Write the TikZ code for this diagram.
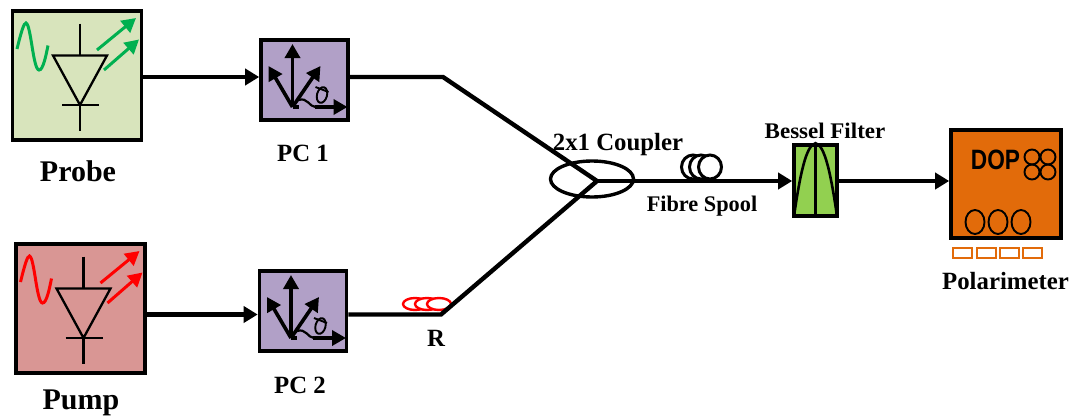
\documentclass[tikz,border=0pt]{standalone}
\usepackage{fontspec}
\setmainfont{Liberation Serif}
\newfontfamily\dopfont{Liberation Sans}
\usepackage{tikz}
\usetikzlibrary{arrows.meta,calc,shapes.geometric}
\definecolor{probeFill}{HTML}{D8E4BC}
\definecolor{pumpFill}{HTML}{D99694}
\definecolor{pcFill}{HTML}{B1A0C7}
\definecolor{filterFill}{HTML}{92D050}
\definecolor{polFill}{HTML}{E26B0A}
\definecolor{probeGreen}{HTML}{00B050}
\tikzset{
  srcBox/.style={draw=black, line width=3.4pt, minimum width=129pt, minimum height=129pt, inner sep=0pt},
  pcBox/.style={draw=black, line width=3.6pt, fill=pcFill, minimum width=87pt, minimum height=80pt, inner sep=0pt},
  filterBox/.style={draw=black, line width=3.6pt, fill=filterFill, minimum width=43pt, minimum height=71pt, inner sep=0pt},
  polBox/.style={draw=black, line width=3.6pt, fill=polFill, minimum width=110pt, minimum height=108pt, inner sep=0pt},
  couplerShape/.style={ellipse, draw=black, line width=3.4pt, minimum width=83pt, minimum height=36pt, inner sep=0pt},
  spoolRing/.style={ellipse, draw=black, fill=white, line width=3pt, minimum width=23pt, minimum height=24pt, inner sep=0pt},
  redRing/.style={ellipse, draw=red, fill=white, line width=2.4pt, minimum width=24pt, minimum height=12pt, inner sep=0pt},
  dialRing/.style={ellipse, draw=black, line width=1.9pt, minimum width=19pt, minimum height=24pt, inner sep=0pt},
  knobRing/.style={circle, draw=black, line width=1.9pt, minimum size=15pt, inner sep=0pt},
  portBox/.style={draw=polFill, line width=2pt, fill=white, minimum width=19pt, minimum height=10pt, inner sep=0pt},
  lblBig/.style={font=\fontsize{30}{32}\selectfont\bfseries},
  lblMid/.style={font=\fontsize{24.8}{26}\selectfont\bfseries},
  lblSmall/.style={font=\fontsize{22.3}{24}\selectfont\bfseries},
  %% fibre and arrows
  fibre/.style={line width=4.4pt, line join=miter},
  fibreArrow/.style={fibre, -{Triangle[length=14pt,width=16pt]}},
  iconArrow/.style={line width=3.6pt, -{Triangle[length=14pt,width=15pt]}},
  %% laser diode icon, origin at the box centre
  pics/laserIcon/.style={code={
    \draw[line width=2.3pt] (3,-52) -- (3,-20);
    \draw[line width=2.3pt] (-24,-20) -- (30,-20) -- (3,29.5) -- cycle;
    \draw[line width=2.3pt] (-15,29.5) -- (22,29.5);
    \draw[line width=2.3pt] (3,29.5) -- (3,55);
    \draw[#1, line width=3pt] (-60,-26.5) .. controls (-56,-43) and (-53,-53) .. (-51,-52.5)
      .. controls (-46,-51) and (-44,-6) .. (-38,-5.5) .. controls (-34,-5) and (-31,-20) .. (-29,-30);
    \draw[#1, line width=3pt, -{Triangle[length=14pt,width=15pt]}] (20,-25.5) -- (59,-57.5);
    \draw[#1, line width=3pt, -{Triangle[length=14pt,width=15pt]}] (27,-5.5) -- (62,-36);
  }},
  %% polarisation axes icon, origin at the box centre
  pics/axesIcon/.style={code={
    \draw[iconArrow] (-12,27) -- (-12,-36);
    \draw[iconArrow] (-12,27) -- (-36,-14);
    \draw[iconArrow] (-12,27) -- (16,-14);
    \draw[line width=3.6pt] (-12,27) -- (-6,27);
    \draw[line width=2.2pt] (-6,20) .. controls (3,17) and (5,27) .. (11,27);
    \draw[iconArrow] (10,27) -- (43,27);
    \draw[line width=1.9pt, rotate around={-15:(17.5,15)}] (17.5,15) ellipse (5 and 8);
    \draw[line width=1.9pt] (11,7) -- (24,12);
  }},
}
\begin{document}
\begin{tikzpicture}[x=1pt, y=-1pt]
\useasboundingbox (0,0) rectangle (1076,415);

\node[srcBox, fill=probeFill] (nProbe) at (77,75.5) {};
\node[srcBox, fill=pumpFill]  (nPump)  at (80.5,308.5) {};
\pic at (nProbe.center) {laserIcon=probeGreen};
\pic at (nPump.center) {laserIcon=red};

\node[pcBox] (nPCa) at (304.5,80) {};
\node[pcBox] (nPCb) at (303,311) {};
\pic at (nPCa.center) {axesIcon};
\pic at (nPCb.center) {axesIcon};

%% spools
\foreach \i/\x in {a/693,b/701,c/710}
  \node[spoolRing] (nSpool\i) at (\x,167) {};
\foreach \i/\x in {a/415,b/427,c/439}
  \node[redRing] (nLoop\i) at (\x,304) {};

\node[couplerShape] (nCoupler) at (592,179) {};
\node[filterBox] (nFilter) at (815.5,180.5) {};
\node[polBox] (nPol) at (1006,184) {};

\coordinate (kTop) at (443,77);
\coordinate (kLow) at (441,314.5);
\coordinate (kJoin) at (597,181);

\draw[fibreArrow] (nProbe.east |- kTop) -- (nPCa.west |- kTop);
\draw[fibreArrow] (nPump.east |- kLow) -- (nPCb.west |- kLow);
\draw[fibre] (nPCa.east |- kTop) -- (kTop) -- (kJoin) -- (kLow) -- (nPCb.east |- kLow);
\draw[fibreArrow] (kJoin) -- (nFilter.west |- kJoin);
\draw[fibreArrow] (nFilter.east |- kJoin) -- (nPol.west |- kJoin);

%% filter curve
\draw[line width=2.6pt] (nFilter.north) -- (nFilter.south);
\draw[line width=2.6pt] (794,216) .. controls (800,175) and (806,145) .. (nFilter.north)
  .. controls (825,145) and (831,175) .. (837,216);

%% polarimeter panel
\node[font=\fontsize{28}{30}\selectfont\bfseries\dopfont, xscale=0.81, text=black] (nDOP) at (995.5,159.5) {DOP};
\foreach \i/\x/\y in {a/1032/157,b/1048/157,c/1032/172,d/1048/172}
  \node[knobRing] (nKnob\i) at (\x,\y) {};
\foreach \i/\x in {a/975,b/998,c/1021}
  \node[dialRing] (nDial\i) at (\x,222) {};
\foreach \i/\x in {a/962,b/986,c/1009,d/1032.5}
  \node[portBox] (nPort\i) at (\x,252.5) {};

%% labels
\node[lblBig] (tProbe) at (78,171) {Probe};
\node[lblBig] (tPump)  at (81,403) {Pump};
\node[lblMid] (tPCa)   at (303,153) {PC 1};
\node[lblMid] (tPCb)   at (300,385) {PC 2};
\node[lblMid] (tR)     at (436,338) {R};
\node[lblMid] (tCoupler) at (618,145) {2x1 Coupler};
\node[lblSmall] (tSpool) at (702,206) {Fibre Spool};
\node[lblSmall, xscale=1.03] (tFilter) at (825,131) {Bessel Filter};
\node[lblMid] (tPol) at (1005.5,281) {Polarimeter};
\end{tikzpicture}
\end{document}
